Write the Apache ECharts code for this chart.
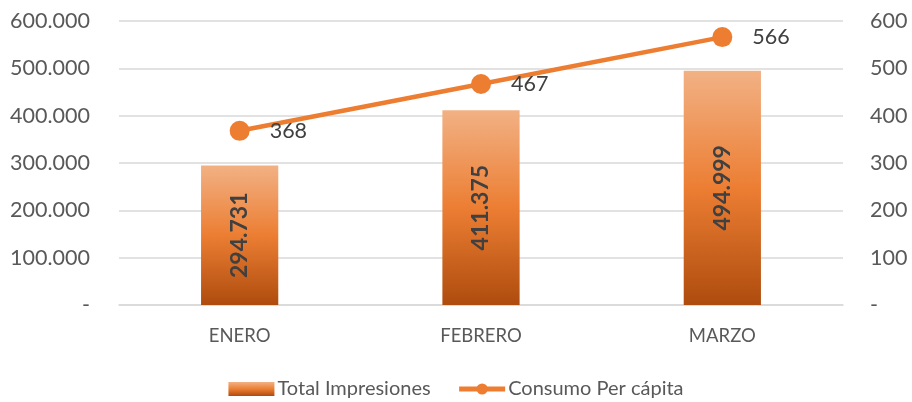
<!DOCTYPE html>
<html><head><meta charset="utf-8">
<script src="https://cdn.jsdelivr.net/npm/echarts@6/dist/echarts.min.js"></script>
<style>html,body{margin:0;padding:0;background:#fff}#c{width:912px;height:402px}</style>
</head><body><div id="c"></div>
<script>
const categories = ['ENERO', 'FEBRERO', 'MARZO'];
const impresiones = [294731, 411375, 494999];
const consumo = [368, 467, 566];
const leftTicks = [0, 100000, 200000, 300000, 400000, 500000, 600000];
const rightTicks = [0, 100, 200, 300, 400, 500, 600];

const FONT = 'Lato';
const TXT = '#595959';
function fmtThousands(v){
  if (v === 0) return '-';
  return String(v).replace(/\B(?=(\d{3})+(?!\d))/g, '.');
}
const chart = echarts.init(document.getElementById('c'));
chart.setOption({
  animation: false,
  textStyle: {fontFamily: FONT},
  grid: {left: 119, right: 69, top: 21, bottom: 97},
  legend: {
    bottom: -2, left: 'center', itemGap: 26, itemWidth: 46, itemHeight: 14,
    textStyle: {color: TXT, fontSize: 20, fontFamily: FONT, padding: [0,0,0,-2]},
    data: [{name: 'Total Impresiones', icon: 'rect'},
           {name: 'Consumo Per cápita', lineStyle: {width: 5}}]
  },
  xAxis: {
    type: 'category', data: categories,
    axisLine: {lineStyle: {color: '#D9D9D9', width: 1.5}},
    axisTick: {show: false},
    axisLabel: {color: TXT, fontSize: 18.5, margin: 22, fontFamily: FONT}
  },
  yAxis: [{
    type: 'value', min: leftTicks[0], max: leftTicks[leftTicks.length-1], interval: 100000,
    axisLabel: {color: TXT, fontSize: 21.5, margin: 29, fontFamily: FONT, formatter: fmtThousands},
    splitLine: {lineStyle: {color: '#D9D9D9', width: 1.5}},
    axisLine: {show: false}, axisTick: {show: false}
  }, {
    type: 'value', min: rightTicks[0], max: rightTicks[rightTicks.length-1], interval: 100,
    axisLabel: {color: TXT, fontSize: 21.5, margin: 27, fontFamily: FONT, formatter: v => v === 0 ? '-' : String(v)},
    splitLine: {show: false},
    axisLine: {show: false}, axisTick: {show: false}
  }],
  series: [{
    name: 'Total Impresiones', type: 'bar', data: impresiones, barWidth: '32%',
    itemStyle: {color: new echarts.graphic.LinearGradient(0,0,0,1,[
      {offset: 0, color: '#F2B184'},
      {offset: 0.5, color: '#EC7E33'},
      {offset: 1, color: '#AE4C0E'}
    ])},
    label: {show: true, position: 'inside', rotate: 90, color: '#404040', fontWeight: 'bold',
      fontSize: 23, fontFamily: FONT, formatter: p => fmtThousands(p.value)}
  }, {
    name: 'Consumo Per cápita', type: 'line', yAxisIndex: 1, data: consumo,
    symbol: 'circle', symbolSize: 20,
    lineStyle: {color: '#ED7D31', width: 4.5},
    itemStyle: {color: '#ED7D31'},
    label: {show: true, position: 'right', distance: 20, color: '#404040', fontSize: 21.5, fontFamily: FONT}
  }]
});
</script></body></html>
